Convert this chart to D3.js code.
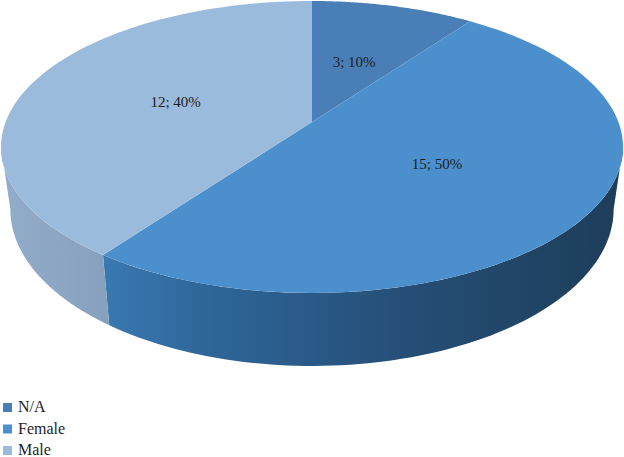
<!DOCTYPE html>
<html>
<head>
  <meta charset="utf-8">
  <script src="https://cdn.jsdelivr.net/npm/d3@7"></script>
  <style>
    body { margin: 0; background: #fff; }
    svg { display: block; }
    svg text { font-family: "Liberation Serif", "Times New Roman", Times, "DejaVu Serif", serif; }
  </style>
</head>
<body>
<div id="chart"></div>
<script>
  const categories = ["N/A", "Female", "Male"];
  const values = [3, 15, 12];
  const percents = ["10%", "50%", "40%"];
  const topColors = ["#4a7eb6", "#4b8fcc", "#9bbbdc"];

  const w = 624, h = 457;

  // perspective disk: apex on screen, half axes, tilt factor, side depth
  const cx = 312, cy = 122;
  const A = 306.4, B = 141.7, e = 0.171;
  const depth = 73 * (1 - e);
  const shrink = 0.97;

  function project(phi, r, bottom) {
    const u = r * Math.sin(phi), v = r * Math.cos(phi);
    const den = 1 + e * v;
    if (!bottom) return [cx + A * u / den, cy - B * v / den];
    return [cx + shrink * A * u / den, cy - B * v / den + depth / den];
  }

  const svg = d3.select("#chart").append("svg")
    .attr("width", w)
    .attr("height", h);

  const defs = svg.append("defs");

  const sideFemale = defs.append("linearGradient")
    .attr("id", "sideFemale")
    .attr("gradientUnits", "userSpaceOnUse")
    .attr("x1", 100).attr("x2", 615).attr("y1", 0).attr("y2", 0);
  sideFemale.append("stop").attr("offset", 0).attr("stop-color", "#3a79b2");
  sideFemale.append("stop").attr("offset", 0.22).attr("stop-color", "#2e6598");
  sideFemale.append("stop").attr("offset", 0.6).attr("stop-color", "#254e76");
  sideFemale.append("stop").attr("offset", 1).attr("stop-color", "#1e3e5a");

  const sideMale = defs.append("linearGradient")
    .attr("id", "sideMale")
    .attr("gradientUnits", "userSpaceOnUse")
    .attr("x1", 0).attr("x2", 106).attr("y1", 0).attr("y2", 0);
  sideMale.append("stop").attr("offset", 0).attr("stop-color", "#92adcb");
  sideMale.append("stop").attr("offset", 1).attr("stop-color", "#87a0bd");

  const sideNA = defs.append("linearGradient")
    .attr("id", "sideNA")
    .attr("gradientUnits", "userSpaceOnUse")
    .attr("x1", 0).attr("x2", w).attr("y1", 0).attr("y2", 0);
  sideNA.append("stop").attr("offset", 0).attr("stop-color", "#3d6a98");
  sideNA.append("stop").attr("offset", 1).attr("stop-color", "#1e3a56");

  const sideFills = ["url(#sideNA)", "url(#sideFemale)", "url(#sideMale)"];

  const pie = d3.pie().sort(null).startAngle(0).endAngle(2 * Math.PI);
  const arcs = pie(values);

  // visible front side spans between the two silhouette angles
  const frontStart = Math.acos(-e);
  const frontEnd = 2 * Math.PI - Math.acos(-e);

  const line = d3.line();
  const steps = 80;

  function arcPoints(a0, a1, r, bottom) {
    return d3.range(steps + 1).map(i => project(a0 + (a1 - a0) * i / steps, r, bottom));
  }

  // sides
  svg.append("g").selectAll("path")
    .data(arcs)
    .join("path")
    .attr("d", d => {
      const a0 = Math.max(d.startAngle, frontStart);
      const a1 = Math.min(d.endAngle, frontEnd);
      if (a1 <= a0) return null;
      const pts = arcPoints(a0, a1, 1, false).concat(arcPoints(a0, a1, 1, true).reverse());
      return line(pts) + "Z";
    })
    .attr("fill", (d, i) => sideFills[i]);

  // tops
  svg.append("g").selectAll("path")
    .data(arcs)
    .join("path")
    .attr("d", d => {
      const pts = [[cx, cy]].concat(arcPoints(d.startAngle, d.endAngle, 1, false));
      return line(pts) + "Z";
    })
    .attr("fill", (d, i) => topColors[i]);

  // data labels
  svg.append("g").selectAll("text")
    .data(arcs)
    .join("text")
    .attr("x", d => project((d.startAngle + d.endAngle) / 2, 0.48, false)[0])
    .attr("y", d => project((d.startAngle + d.endAngle) / 2, 0.48, false)[1] + 5)
    .attr("text-anchor", "middle")
    .style("font-size", "15px")
    .attr("fill", "#1e1e1e")
    .text((d, i) => values[i] + "; " + percents[i]);

  // legend
  const legend = svg.append("g").selectAll("g")
    .data(categories)
    .join("g")
    .attr("transform", (d, i) => `translate(3, ${403 + i * 21.5})`);

  legend.append("rect")
    .attr("width", 9)
    .attr("height", 9)
    .attr("fill", (d, i) => topColors[i]);

  legend.append("text")
    .attr("x", 15)
    .attr("y", 9)
    .style("font-size", "16px")
    .attr("fill", "#1e1e1e")
    .text(d => d);
</script>
</body>
</html>
